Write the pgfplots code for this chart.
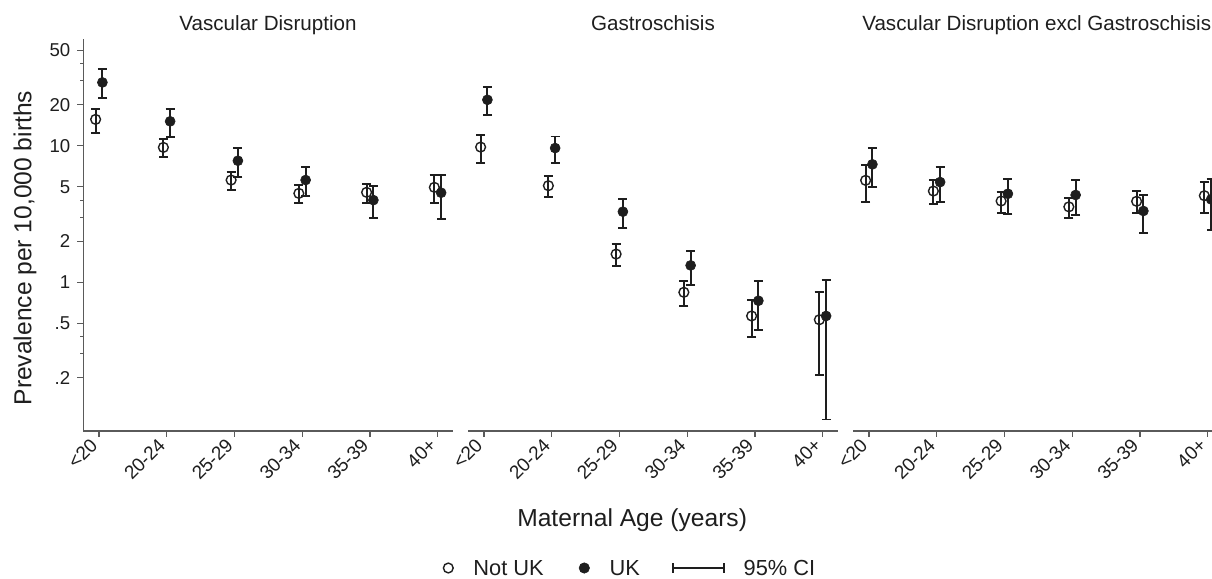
\documentclass[border=0pt]{standalone}
\usepackage{fontspec}
\setmainfont{Liberation Sans}
\usepackage{pgfplots}
\usepackage{pgfplotstable}
\pgfplotsset{compat=1.18}

\definecolor{ink}{HTML}{1E1E1E}
\definecolor{axisgray}{HTML}{5A5A5A}

% Vascular Disruption
\pgfplotstableread{
x nuk nukl nuku uk ukl uku
0 15.6 12.4 18.7 29.1 22.4 36.3
1 9.73 8.30 11.2 15.1 11.6 18.6
2 5.61 4.76 6.42 7.77 5.93 9.57
3 4.48 3.83 5.13 5.61 4.28 6.98
4 4.56 3.83 5.24 4.00 2.96 5.07
5 4.96 3.83 6.10 4.53 2.89 6.13
}\tabVD
% Gastroschisis
\pgfplotstableread{
x nuk nukl nuku uk ukl uku
0 9.78 7.51 12.0 21.7 16.8 26.8
1 5.10 4.21 5.97 9.62 7.51 11.7
2 1.61 1.31 1.92 3.29 2.51 4.07
3 0.845 0.667 1.03 1.33 0.96 1.70
4 0.567 0.396 0.738 0.733 0.448 1.03
5 0.532 0.211 0.853 0.567 0.099 1.04
}\tabG
% Vascular Disruption excl Gastroschisis
\pgfplotstableread{
x nuk nukl nuku uk ukl uku
0 5.58 3.87 7.22 7.31 4.96 9.62
1 4.66 3.74 5.58 5.42 3.85 6.98
2 3.94 3.23 4.61 4.45 3.18 5.73
3 3.57 2.96 4.16 4.36 3.11 5.61
4 3.92 3.20 4.66 3.33 2.30 4.36
5 4.31 3.22 5.42 4.05 2.40 5.70
}\tabVDx

\newcommand{\panelplots}[1]{%
  \addplot[forget plot, only marks, color=ink, mark=o, mark size=2.45pt, mark options={line width=0.7pt},
    error bars/.cd, y dir=both, y explicit,
    error bar style={line width=0.95pt},
    error mark options={rotate=90, line width=0.95pt, mark size=2.3pt}]
    table[x expr=\thisrow{x}-0.05, y=nuk,
    y error plus expr=\thisrow{nuku}-\thisrow{nuk},
    y error minus expr=\thisrow{nuk}-\thisrow{nukl}]{#1};
  \addplot[forget plot, only marks, color=ink, mark=*, mark size=2.5pt, mark options={line width=0.3pt, fill=ink},
    error bars/.cd, y dir=both, y explicit,
    error bar style={line width=0.95pt},
    error mark options={rotate=90, line width=0.95pt, mark size=2.3pt}]
    table[x expr=\thisrow{x}+0.05, y=uk,
    y error plus expr=\thisrow{uku}-\thisrow{uk},
    y error minus expr=\thisrow{uk}-\thisrow{ukl}]{#1};
}

\begin{document}
\begin{tikzpicture}
\begin{axis}[at={(41.65pt,74pt)}, anchor=south west,
  scale only axis, width=184.7pt, height=195.85pt,
  ymode=log, ymin=0.0815, ymax=60.2, xmin=-0.232, xmax=5.221,
  axis x line*=bottom, axis y line*=left,
  xtick={0,1,2,3,4,5},
  xticklabels={<20,20-24,25-29,30-34,35-39,40+},
  xticklabel style={rotate=45, anchor=east, font=\fontsize{9.5}{10}\selectfont, text=ink},
  tick align=outside, major tick length=3pt, minor tick length=1.5pt,
  tick style={axisgray, line width=0.6pt},
  axis line style={axisgray, line width=0.65pt},
  title style={font=\fontsize{10.3}{12}\selectfont, text=ink, at={(0.5,0.991)}, anchor=base},
  clip=false,
  title={Vascular Disruption},
  ytick={0.2,0.5,1,2,5,10,20,50},
  yticklabels={.2,.5,1,2,5,10,20,50},
  minor ytick={0.3,0.4,3,4,30,40},
  yticklabel style={font=\fontsize{9.3}{10}\selectfont, text=ink},
  ylabel={Prevalence per 10,000 births},
  ylabel style={at={(-0.158,0.467)}, anchor=center, font=\fontsize{12.3}{14}\selectfont, text=ink},
]
\panelplots{\tabVD}
\end{axis}

\begin{axis}[at={(234.15pt,74pt)}, anchor=south west,
  scale only axis, width=184.7pt, height=195.85pt,
  ymode=log, ymin=0.0815, ymax=60.2, xmin=-0.232, xmax=5.221,
  axis x line*=bottom, hide y axis,
  xtick={0,1,2,3,4,5},
  xticklabels={<20,20-24,25-29,30-34,35-39,40+},
  xticklabel style={rotate=45, anchor=east, font=\fontsize{9.5}{10}\selectfont, text=ink},
  tick align=outside, major tick length=3pt,
  tick style={axisgray, line width=0.6pt},
  axis line style={axisgray, line width=0.65pt},
  title style={font=\fontsize{10.3}{12}\selectfont, text=ink, at={(0.5,0.991)}, anchor=base},
  clip=false,
  title={Gastroschisis},
  xlabel={Maternal Age (years)},
  xlabel style={at={(0.4436,-0.227)}, anchor=center, font=\fontsize{12.3}{14}\selectfont, text=ink},
]
\panelplots{\tabG}
\end{axis}

\begin{axis}[at={(426.65pt,74pt)}, anchor=south west,
  scale only axis, width=184.7pt, height=195.85pt,
  ymode=log, ymin=0.0815, ymax=60.2, xmin=-0.232, xmax=5.221,
  axis x line*=bottom, hide y axis,
  xtick={0,1,2,3,4,5},
  xticklabels={<20,20-24,25-29,30-34,35-39,40+},
  xticklabel style={rotate=45, anchor=east, font=\fontsize{9.5}{10}\selectfont, text=ink},
  tick align=outside, major tick length=3pt,
  tick style={axisgray, line width=0.6pt},
  axis line style={axisgray, line width=0.65pt},
  title style={font=\fontsize{10.3}{12}\selectfont, text=ink, at={(0.4965,0.991)}, anchor=base},
  clip=false,
  title={Vascular Disruption excl Gastroschisis},
]
\panelplots{\tabVDx}
\end{axis}

% legend row (x in image pixels)
\begin{axis}[at={(0pt,0pt)}, anchor=south west,
  scale only axis, width=606pt, height=11pt,
  xmin=0, xmax=1212, ymin=-1, ymax=1,
  hide axis, clip=false]
\addplot[only marks, color=ink, mark=o, mark size=2.45pt, mark options={line width=0.7pt}] coordinates {(448.3,0)};
\addplot[only marks, color=ink, mark=*, mark size=2.6pt, mark options={line width=0.3pt, fill=ink}] coordinates {(584.3,0)};
\addplot[color=ink, line width=0.95pt, mark=|, mark size=2.3pt] coordinates {(672.7,0) (724.3,0)};
\node[anchor=west, inner sep=0pt, font=\fontsize{10.9}{12}\selectfont, text=ink] at (axis cs:473,0) {Not UK};
\node[anchor=west, inner sep=0pt, font=\fontsize{10.9}{12}\selectfont, text=ink] at (axis cs:609.3,0) {UK};
\node[anchor=west, inner sep=0pt, font=\fontsize{10.9}{12}\selectfont, text=ink] at (axis cs:743.3,0) {95\% CI};
\end{axis}

\pgfresetboundingbox
\useasboundingbox (0pt,0pt) rectangle (606pt,289.5pt);
\end{tikzpicture}
\end{document}
